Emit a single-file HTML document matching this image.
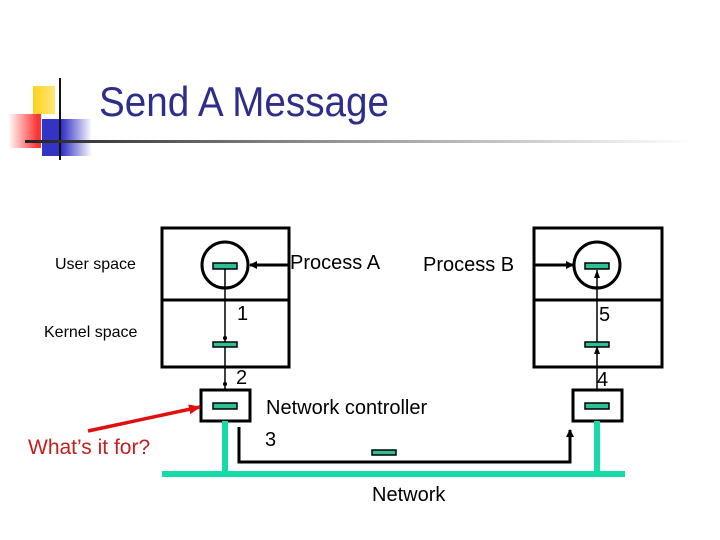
<!DOCTYPE html>
<html><head><style>
body{margin:0;width:720px;height:540px;background:#fff;overflow:hidden;position:relative;font-family:"Liberation Sans",sans-serif}
.t{position:absolute;white-space:nowrap}
</style></head><body>
<div style="position:absolute;left:33px;top:86px;width:22px;height:28px;background:linear-gradient(90deg,#ffd21c,#ffe77a)"></div>
<div style="position:absolute;left:42px;top:119px;width:50px;height:37px;background:linear-gradient(90deg,#3434c4 40%,#fff)"></div>
<div style="position:absolute;left:8px;top:114px;width:33px;height:34px;background:linear-gradient(90deg,#fff,#f33 90%)"></div>
<div style="position:absolute;left:59px;top:78px;width:2px;height:82px;background:#111"></div>
<div style="position:absolute;left:25px;top:140px;width:670px;height:3px;background:linear-gradient(90deg,#222,#888 40%,#fff)"></div>
<div class="t" style="left:99px;top:78px;font-size:42px;color:#2e2e8a;transform:scaleX(0.92);transform-origin:left">Send A Message</div>

<svg width="720" height="540" style="position:absolute;left:0;top:0">
<defs>
<marker id="a" markerWidth="8" markerHeight="8" refX="7" refY="4" orient="auto" markerUnits="userSpaceOnUse"><path d="M0,0L8,4L0,8z" fill="#000"/></marker>
<marker id="r" markerWidth="12" markerHeight="10" refX="11" refY="5" orient="auto" markerUnits="userSpaceOnUse"><path d="M0,0L12,5L0,10z" fill="#e01010"/></marker>
</defs>
<g fill="none" stroke="#000" stroke-width="3">
<rect x="162" y="228" width="127" height="139"/><line x1="162" y1="300" x2="289" y2="300"/>
<rect x="534" y="228" width="128" height="139"/><line x1="534" y1="300" x2="662" y2="300"/>
<circle cx="225" cy="265" r="23"/><circle cx="597" cy="265" r="23"/>
<rect x="201" y="390" width="49" height="31"/><rect x="573" y="390" width="49" height="31"/>
</g>
<g stroke="#000" stroke-width="1.5">
<line x1="225" y1="268" x2="225" y2="390"/><line x1="597" y1="270" x2="597" y2="390"/>
</g>
<circle cx="225" cy="338" r="2"/><circle cx="225" cy="384" r="2"/>
<path d="M597,346l-3,8h6z M597,270l-3,8h6z"/>
<g stroke="#000" stroke-width="3" fill="none">
<line x1="289" y1="265" x2="250" y2="265" marker-end="url(#a)"/>
<line x1="534" y1="265" x2="573" y2="265" marker-end="url(#a)"/>
<polyline points="239,427 239,462 570,462 570,430" marker-end="url(#a)"/>
</g>
<g fill="#2fbf97" stroke="#000" stroke-width="1.5">
<rect x="213" y="263" width="24" height="6"/><rect x="213" y="342" width="24" height="5"/><rect x="213" y="403" width="24" height="6"/>
<rect x="585" y="263" width="24" height="6"/><rect x="585" y="342" width="24" height="5"/><rect x="585" y="403" width="24" height="6"/>
<rect x="372" y="450" width="24" height="5"/>
</g>
<g fill="#17dba6">
<rect x="162" y="471" width="463" height="6"/><rect x="222" y="421" width="6" height="52"/><rect x="594" y="421" width="6" height="52"/>
</g>
<line x1="88" y1="431" x2="200" y2="407" stroke="#e01010" stroke-width="3.5" marker-end="url(#r)"/>
</svg>

<div class="t" style="left:55px;top:256px;font-size:16px">User space</div>
<div class="t" style="left:44px;top:324px;font-size:16px">Kernel space</div>
<div class="t" style="left:290px;top:252px;font-size:20px">Process A</div>
<div class="t" style="left:423px;top:254px;font-size:20px">Process B</div>
<div class="t" style="left:237px;top:303px;font-size:20px">1</div>
<div class="t" style="left:236px;top:367px;font-size:20px">2</div>
<div class="t" style="left:265px;top:429px;font-size:20px">3</div>
<div class="t" style="left:597px;top:369px;font-size:20px">4</div>
<div class="t" style="left:599px;top:304px;font-size:20px">5</div>
<div class="t" style="left:266px;top:397px;font-size:20px">Network controller</div>
<div class="t" style="left:372px;top:484px;font-size:20px">Network</div>
<div class="t" style="left:28px;top:436px;font-size:21px;color:#c0201f">What’s it for?</div>
</body></html>
